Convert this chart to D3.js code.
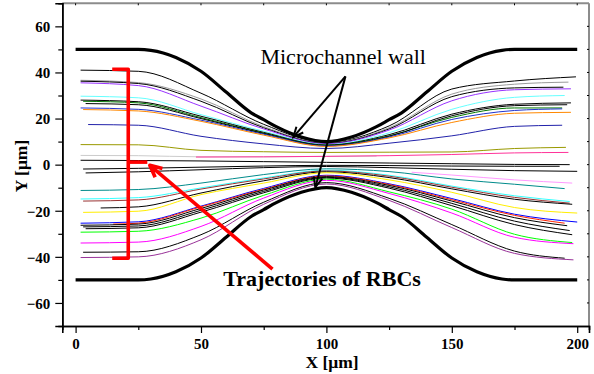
<!DOCTYPE html>
<html><head><meta charset="utf-8">
<script src="https://cdn.jsdelivr.net/npm/d3@7"></script>
<style>html,body{margin:0;padding:0;background:#fff;}svg{display:block;}</style>
</head><body><svg id="c" width="594" height="374"></svg>
<script>
// ---- data ----
const xTicks = [0, 50, 100, 150, 200];
const xMinorTicks = [25, 75, 125, 175];
const yTicks = [-60, -40, -20, 0, 20, 40, 60];
const yMinorTicks = [-50, -30, -10, 10, 30, 50];

const wallX   = [0, 25, 30, 40, 50, 60, 70, 75, 80, 90, 100, 110, 120, 125, 130, 140, 150, 160, 170, 175, 200];
const wallTop = [50, 50, 49.6, 46.5, 40.5, 31.5, 22.5, 19.5, 16.5, 12, 10, 12, 16.5, 19.5, 22.5, 31.5, 40.5, 46.5, 49.6, 50, 50];
const wallBottom = wallTop.map(v => -v);

const knotX = [25, 50, 75, 100, 125, 150, 175];
// upper-half trajectories: y at [x0, knots..., x1]
const upperTraj = [
  {c:"#000000", x0:2, x1:199.5, y:[41, 40.5, 31, 17.5, 9.6, 16.8, 32.8, 36.3, 38.1]},
  {c:"#9a9a9a", x0:2, x1:196.5, y:[36.6, 35.6, 28.5, 16.5, 9.4, 16, 30.6, 34.9, 35.8]},
  {c:"#000000", x0:2, x1:194.5, y:[36.2, 35.2, 27.5, 16, 9.2, 15.5, 29.5, 33.3, 33.6]},
  {c:"#9933ff", x0:2, x1:197.5, y:[35.5, 34.3, 25.4, 15.5, 9, 15, 27.7, 32.5, 32.9]},
  {c:"#66ffff", x0:2, x1:195, y:[29.7, 29, 21.7, 14.5, 8.7, 13.8, 24, 29.2, 30]},
  {c:"#000000", x0:2, x1:197.5, y:[28, 27.3, 21, 14, 8.5, 13, 21.9, 26.2, 26.8]},
  {c:"#007700", x0:3, x1:194, y:[27.5, 26.8, 20.4, 13.7, 8.4, 12.5, 20.5, 24.6, 24.6]},
  {c:"#000000", x0:4, x1:196, y:[26.5, 26, 20, 13.5, 8.3, 12.3, 21.2, 25.6, 26]},
  {c:"#2233cc", x0:2, x1:194, y:[24.6, 24, 19.3, 13.2, 8.1, 12, 19.6, 23.5, 24.2]},
  {c:"#ff8800", x0:3, x1:197.5, y:[23.9, 23.3, 18.8, 12.8, 7.9, 11.6, 18.3, 22.3, 22.7]},
  {c:"#2222aa", x0:5, x1:194, y:[17.4, 17.1, 12.3, 9, 7, 9.3, 12.5, 16.6, 17.1]},
  {c:"#999900", x0:2, x1:195.5, y:[8.7, 8.6, 6.2, 5.6, 5.3, 5.4, 5.5, 7, 7.5]},
  {c:"#000000", x0:2, x1:197, y:[1.9, 1.8, 1.6, 1.3, 1, 0.7, 0.4, 0.1, 0]},
  {c:"#000000", x0:3, x1:193, y:[-1.9, -1.6, -1.1, -0.6, -0.3, -0.4, -0.6, -0.7, -0.7]},
  {c:"#000000", x0:4, x1:200, y:[-3.6, -3.1, -2.2, -1.3, -0.8, -1.3, -2, -2.6, -2.9]}
];
// lower-half trajectories
const lowerTraj = [
  {c:"#008b8b", x0:2, x1:195, y:[-11.2, -10.8, -8, -4.3, -1.8, -3, -6.2, -8.5, -10.4]},
  {c:"#33ffff", x0:2, x1:197, y:[-14.9, -14.3, -10.1, -5.8, -2.4, -4.6, -9.3, -13.5, -16]},
  {c:"#993333", x0:3, x1:197, y:[-15.8, -15.3, -10.6, -6.2, -2.7, -5, -9.8, -14.2, -16.7]},
  {c:"#000000", x0:10, x1:198, y:[-18.8, -18.3, -12.3, -7, -3.1, -5.6, -10.5, -15, -17.2]},
  {c:"#ffee00", x0:3, x1:200, y:[-20.7, -20.2, -13, -8, -3.5, -6.6, -12, -18.6, -21]},
  {c:"#0000ff", x0:2, x1:200, y:[-25.4, -24.8, -18, -10.3, -4.6, -8.3, -14.7, -21.5, -24.9]},
  {c:"#ff2200", x0:15, x1:195, y:[-25.8, -25.4, -18.3, -10.7, -4.9, -8.6, -15.2, -22, -25.4]},
  {c:"#000000", x0:2, x1:196, y:[-26.3, -25.8, -19, -11, -5.2, -9, -15.8, -23, -26.5]},
  {c:"#000000", x0:3, x1:197, y:[-27, -26.6, -19.8, -11.6, -5.5, -9.6, -16.8, -24.5, -28.6]},
  {c:"#000000", x0:4, x1:198, y:[-27.8, -27.4, -20.6, -12.2, -5.8, -10.2, -17.8, -26, -30.4]},
  {c:"#00ff00", x0:2, x1:198, y:[-29.3, -28.9, -23.2, -13.3, -6.3, -11.8, -19.3, -30.2, -33.8]},
  {c:"#ff00ff", x0:2, x1:198.5, y:[-34, -33.6, -26.8, -14.5, -6.8, -12.5, -21, -31.5, -34.3]},
  {c:"#000000", x0:3, x1:195, y:[-38, -37.8, -30.4, -16.3, -7.8, -14.6, -26, -37.5, -40.6]},
  {c:"#993399", x0:2, x1:198.5, y:[-40.3, -40, -32.6, -17.2, -8.4, -15.5, -27.3, -38.5, -41.3]}
];
// partial trajectories with their own x positions
const partialTraj = [
  {c:"#cccccc", x:[2, 25, 50, 75, 100, 120], y:[4, 3.9, 3.4, 3.4, 3.6, 3.7]},
  {c:"#ff3399", x:[48, 75, 100, 125, 150, 175, 196.5], y:[3.3, 3.4, 3.6, 3.9, 4.4, 5.1, 5.3]},
  {c:"#ff99ff", x:[134, 150, 175, 198], y:[-3.3, -4.5, -6.6, -8]}
];

// ---- layout ----
const svg = d3.select("#c");
const L = 62.3, R = 589, T = 3.3, B = 326;
const x = d3.scaleLinear().domain([-5.3, 204.7]).range([L, R]);
const y = d3.scaleLinear().domain([-70, 70]).range([B, T]);
const font = "'Liberation Serif','Times New Roman',serif";

// frame (top/right grey)
svg.append("line").attr("x1", L).attr("x2", R).attr("y1", T).attr("y2", T).attr("stroke", "#8c8c8c").attr("stroke-width", 2);
svg.append("line").attr("x1", R).attr("x2", R).attr("y1", T).attr("y2", B).attr("stroke", "#8c8c8c").attr("stroke-width", 2);
// inner ticks on top/right
svg.selectAll(".tt").data(xTicks.concat(xMinorTicks)).join("line")
  .attr("x1", d => x(d)).attr("x2", d => x(d)).attr("y1", T).attr("y2", T + 2).attr("stroke", "#000").attr("stroke-width", 1);
svg.selectAll(".rt").data(yTicks.concat(yMinorTicks)).join("line")
  .attr("x1", R - 2).attr("x2", R).attr("y1", d => y(d)).attr("y2", d => y(d)).attr("stroke", "#000").attr("stroke-width", 1);

// axes
const gx = svg.append("g").attr("transform", `translate(0,${B})`)
  .call(d3.axisBottom(x).tickValues(xTicks).tickSize(7).tickPadding(5).tickFormat(d3.format("d")));
const gxm = svg.append("g").attr("transform", `translate(0,${B})`)
  .call(d3.axisBottom(x).tickValues(xMinorTicks).tickSize(4).tickFormat(""));
const gy = svg.append("g").attr("transform", `translate(${L},0)`)
  .call(d3.axisLeft(y).tickValues(yTicks).tickSize(7).tickPadding(5).tickFormat(d3.format("d")));
const gym = svg.append("g").attr("transform", `translate(${L},0)`)
  .call(d3.axisLeft(y).tickValues(yMinorTicks).tickSize(4).tickFormat(""));
[gx, gxm, gy, gym].forEach(g => {
  g.select(".domain").attr("stroke", "#000").attr("stroke-width", 1.6);
  g.selectAll(".tick line").attr("stroke", "#000").attr("stroke-width", 1.2);
  g.selectAll("text").attr("font-family", font).attr("font-weight", "bold").attr("font-size", 15).attr("fill", "#000");
});
gy.selectAll("text").attr("dy", "0.35em");

// axis titles
svg.append("text").attr("x", 332).attr("y", 367.5).attr("text-anchor", "middle")
  .attr("font-family", font).attr("font-weight", "bold").attr("font-size", 17.5).text("X [μm]");
svg.append("text").attr("transform", "translate(27,166) rotate(-90)").attr("text-anchor", "middle")
  .attr("font-family", font).attr("font-weight", "bold").attr("font-size", 17.5).text("Y [μm]");

// trajectories
const line = d3.line().x(d => x(d[0])).y(d => y(d[1])).curve(d3.curveMonotoneX);
function pts(t) { const xs = [t.x0].concat(knotX, [t.x1]); return xs.map((xv, i) => [xv, t.y[i]]); }
const g = svg.append("g");
upperTraj.concat(lowerTraj).forEach(t => {
  g.append("path").attr("d", line(pts(t))).attr("fill", "none").attr("stroke", t.c).attr("stroke-width", 1);
});
partialTraj.forEach(t => {
  g.append("path").attr("d", line(t.x.map((xv, i) => [xv, t.y[i]]))).attr("fill", "none").attr("stroke", t.c).attr("stroke-width", 1);
});

// walls
const wallLine = d3.line().x(d => x(d[0])).y(d => y(d[1])).curve(d3.curveMonotoneX);
svg.append("path").attr("d", wallLine(wallX.map((v, i) => [v, wallTop[i]]))).attr("fill", "none").attr("stroke", "#000").attr("stroke-width", 3.2);
svg.append("path").attr("d", wallLine(wallX.map((v, i) => [v, wallBottom[i]]))).attr("fill", "none").attr("stroke", "#000").attr("stroke-width", 3.2);

// annotations (data coordinates)
function arrowHead(x1, y1, x2, y2, len, ang) {
  const a = Math.atan2(y2 - y1, x2 - x1);
  const p1 = [x2 - len * Math.cos(a - ang), y2 - len * Math.sin(a - ang)];
  const p2 = [x2 - len * Math.cos(a + ang), y2 - len * Math.sin(a + ang)];
  return `M${p1[0]},${p1[1]}L${x2},${y2}L${p2[0]},${p2[1]}`;
}
const wallLabel = {x: 73.7, y: 43.6};
const wallArrowStart = [107.6, 38.3];
const wallArrowEnds = [[86.8, 11.9], [95.6, -9.8]];
svg.append("text").attr("x", x(wallLabel.x)).attr("y", y(wallLabel.y)).attr("font-family", font).attr("font-size", 22).text("Microchannel wall");
wallArrowEnds.forEach(e => {
  const sx = x(wallArrowStart[0]), sy = y(wallArrowStart[1]), ex = x(e[0]), ey = y(e[1]);
  svg.append("line").attr("x1", sx).attr("y1", sy).attr("x2", ex).attr("y2", ey).attr("stroke", "#000").attr("stroke-width", 2);
  svg.append("path").attr("d", arrowHead(sx, sy, ex, ey, 11, 0.42)).attr("fill", "none").attr("stroke", "#000").attr("stroke-width", 2);
});

// red bracket + arrow
const red = "#ff0000";
const bracket = {xl: 14.6, xr: 21, yt: 41.4, yb: -40.6, ym: 1.1, xm: 28.6};
const br = svg.append("g").attr("stroke", red).attr("stroke-width", 3.6).attr("fill", "none").attr("stroke-linejoin", "round");
br.append("path").attr("d", `M${x(bracket.xl)},${y(bracket.yt)}H${x(bracket.xr)}V${y(bracket.yb)}H${x(bracket.xl)}`);
br.append("path").attr("d", `M${x(bracket.xr)},${y(bracket.ym)}H${x(bracket.xm)}`);
const redStart = [78.5, -45.3], redEnd = [29.6, -0.3];
const rsx = x(redStart[0]), rsy = y(redStart[1]), rex = x(redEnd[0]), rey = y(redEnd[1]);
br.append("line").attr("x1", rsx).attr("y1", rsy).attr("x2", rex).attr("y2", rey);
br.append("path").attr("d", arrowHead(rsx, rsy, rex, rey, 13, 0.45));

const rbcLabel = {x: 58.9, y: -52.6};
svg.append("text").attr("x", x(rbcLabel.x)).attr("y", y(rbcLabel.y)).attr("font-family", font).attr("font-weight", "bold").attr("font-size", 22).text("Trajectories of RBCs");
</script></body></html>
